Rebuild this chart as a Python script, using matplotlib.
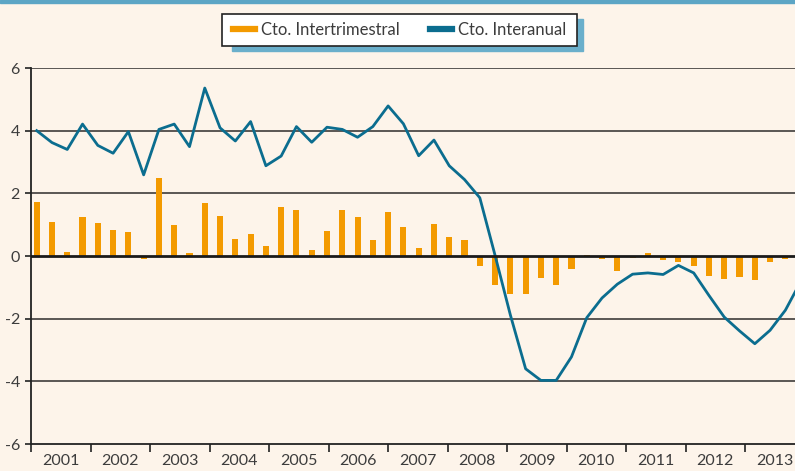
import numpy as np
import matplotlib
matplotlib.use("Agg")
import matplotlib.pyplot as plt
from matplotlib.lines import Line2D
from matplotlib.patches import Rectangle

plt.rcParams['font.family'] = ['Lato', 'DejaVu Sans']

# quarterly data, 2001Q1 .. 2013Q2 (bars), line runs one quarter further
intertrimestral = [1.71, 1.07, 0.13, 1.23,
                   1.06, 0.82, 0.78, -0.11,
                   2.50, 0.98, 0.09, 1.70,
                   1.27, 0.54, 0.69, 0.32,
                   1.56, 1.47, 0.19, 0.80,
                   1.48, 1.25, 0.52, 1.41,
                   0.91, 0.27, 1.01, 0.60,
                   0.52, -0.33, -0.93, -1.22,
                   -1.20, -0.71, -0.93, -0.41,
                   0.04, -0.08, -0.47, -0.07,
                   0.08, -0.13, -0.18, -0.31,
                   -0.63, -0.73, -0.66, -0.77,
                   -0.20, -0.09]
interanual = [4.00, 3.62, 3.40, 4.21,
              3.53, 3.28, 3.97, 2.59,
              4.04, 4.21, 3.49, 5.36,
              4.09, 3.67, 4.29, 2.88,
              3.19, 4.13, 3.63, 4.11,
              4.04, 3.79, 4.13, 4.79,
              4.22, 3.20, 3.70, 2.88,
              2.44, 1.86, 0.02, -1.88,
              -3.60, -3.97, -3.97, -3.22,
              -1.97, -1.34, -0.90, -0.58,
              -0.54, -0.59, -0.30, -0.54,
              -1.26, -1.95, -2.39, -2.80,
              -2.37, -1.73, -0.82]
years = list(range(2001, 2014))
yticks = [-6, -4, -2, 0, 2, 4, 6]

bg = '#fdf4ea'
orange = '#f39a00'
blue = '#0b6d8f'
txt = '#3c3c3c'

fig = plt.figure(figsize=(7.95, 4.71), dpi=100, facecolor=bg)
ax = fig.add_axes([31/795, 1-444/471, 1-31/795, (444-68)/471])
ax.set_facecolor(bg)

xb = np.arange(len(intertrimestral))
xl = np.arange(len(interanual))
ax.bar(xb, intertrimestral, width=0.4, color=orange, zorder=3)
ax.plot(xl, interanual, color=blue, lw=2.0, zorder=4)

ax.set_xlim(-0.373, 49.63)
ax.set_ylim(-6, 6)
ax.set_yticks(yticks)
ax.set_yticklabels([str(v) for v in yticks], color=txt, fontsize=11.5)
ax.tick_params(axis='y', length=4, width=1.2, color='#222222', pad=4)
ax.set_xticks([])
for v in yticks:
    if v == 0:
        ax.axhline(v, color='#1a1a1a', lw=2.0, zorder=5)
    elif v != -6:
        ax.axhline(v, color='#4d4a48', lw=1.3, zorder=2)
for s in ['top', 'right']:
    ax.spines[s].set_visible(False)
for s in ['left', 'bottom']:
    ax.spines[s].set_color('#222222')
    ax.spines[s].set_linewidth(1.3)

# year axis (ticks do not line up exactly with the quarters in the original)
ax2 = ax.twiny()
ax2.set_xlim(2001, 2013.84)
ax2.xaxis.set_ticks_position('bottom')
ax2.set_xticks(years)
ax2.set_xticklabels([])
ax2.set_xticks([y + 0.5 for y in years], minor=True)
ax2.set_xticklabels([str(y) for y in years], minor=True, color=txt, fontsize=11.5)
ax2.tick_params(axis='x', which='major', length=6, width=1.2, color='#222222', direction='out')
ax2.tick_params(axis='x', which='minor', length=0, pad=7)
for s in ax2.spines.values():
    s.set_visible(False)

# top strip
fig.patches.append(Rectangle((0, 1-2.5/471), 1, 2.5/471, transform=fig.transFigure,
                             color='#5ca5c5', zorder=1))
# legend box with shadow
fig.patches.append(Rectangle((231.7/795, 1-50.7/471), 351/795, 31.7/471,
                             transform=fig.transFigure, color='#6aafcb', zorder=1))
fig.patches.append(Rectangle((222.3/795, 1-45.7/471), 355/795, 31.7/471,
                             transform=fig.transFigure, facecolor='white',
                             edgecolor='#222222', lw=1.2, zorder=2))
handles = [Line2D([], [], color=orange, lw=4.5),
           Line2D([], [], color=blue, lw=4.5)]
leg = fig.legend(handles, ['Cto. Intertrimestral', 'Cto. Interanual'], ncol=2,
                 loc='center left', bbox_to_anchor=(233/795, 1-30/471),
                 frameon=False, fontsize=12, handlelength=1.32, handletextpad=0.36,
                 columnspacing=1.8, borderpad=0, borderaxespad=0, labelcolor=txt)
leg.set_zorder(6)

fig.savefig('out.png', dpi=100, facecolor=bg)
